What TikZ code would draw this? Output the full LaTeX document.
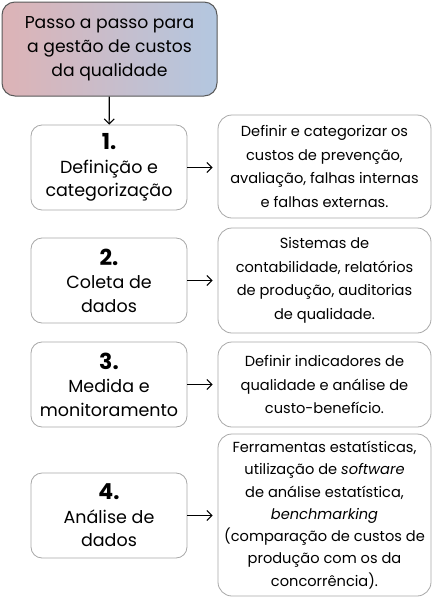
\documentclass[tikz,border=0pt]{standalone}
\usepackage{fontspec}
\setmainfont{Poppins}
\usetikzlibrary{arrows.meta}
\definecolor{rosa}{HTML}{DDB3B6}
\definecolor{azul}{HTML}{B3C7E0}
\definecolor{borda}{HTML}{A8A8A8}
\begin{document}
\begin{tikzpicture}[x=1pt,y=-1pt,
    etapa/.style={draw=borda,line width=0.8pt,rounded corners=11pt,fill=white,
      align=center,inner sep=0pt,minimum width=156pt,minimum height=85pt,
      font=\fontsize{17.5}{23.5}\selectfont},
    descr/.style={draw=borda,line width=0.8pt,rounded corners=14pt,fill=white,
      align=center,inner sep=0pt,minimum width=213pt,
      font=\fontsize{14.6}{23.5}\selectfont},
    seta/.style={line width=1.1pt,-{Straight Barb[length=5pt,width=10pt]}}]
  \useasboundingbox (0,0) rectangle (433,598);
  \node[draw=black!65,line width=1pt,rounded corners=13pt,left color=rosa,right color=azul,
    align=center,minimum width=215pt,minimum height=94pt,inner sep=0pt,
    font=\fontsize{17.2}{24}\selectfont] (titulo) at (109.5,49)
    {Passo a passo para\\a gestão de custos\\da qualidade};
  % etapas
  \node[etapa] (e1) at (109,167.5) {{\bfseries\fontsize{22}{22}\selectfont 1.}\\Definição e\\categorização};
  \node[etapa] (e2) at (109,280.5) {{\bfseries\fontsize{22}{22}\selectfont 2.}\\Coleta de\\dados};
  \node[etapa] (e3) at (109,384.5) {{\bfseries\fontsize{22}{22}\selectfont 3.}\\Medida e\\monitoramento};
  \node[etapa] (e4) at (109,515.5) {{\bfseries\fontsize{22}{22}\selectfont 4.}\\Análise de\\dados};
  % descricoes
  \node[descr,minimum height=103pt] (d1) at (324.5,166.5)
    {Definir e categorizar os\\custos de prevenção,\\avaliação, falhas internas\\e falhas externas.};
  \node[descr,minimum height=105pt] (d2) at (324.5,280.5)
    {Sistemas de\\contabilidade, relatórios\\de produção, auditorias\\de qualidade.};
  \node[descr,minimum height=85pt] (d3) at (324.5,384.5)
    {Definir indicadores de\\qualidade e análise de\\custo-benefício.};
  \node[descr,minimum height=162pt,font=\fontsize{14.6}{22.3}\selectfont] (d4) at (324.5,515)
    {Ferramentas estatísticas,\\utilização de \textit{software}\\de análise estatística,\\\textit{benchmarking}\\(comparação de custos de\\produção com os da\\concorrência).};
  \draw[seta] (titulo) -- (e1);
  \draw[seta] (e1.east) -- ([xshift=-5pt]d1.west |- e1.east);
  \draw[seta] (e2.east) -- ([xshift=-5pt]d2.west |- e2.east);
  \draw[seta] (e3.east) -- ([xshift=-5pt]d3.west |- e3.east);
  \draw[seta] (e4.east) -- ([xshift=-5pt]d4.west |- e4.east);
\end{tikzpicture}
\end{document}
